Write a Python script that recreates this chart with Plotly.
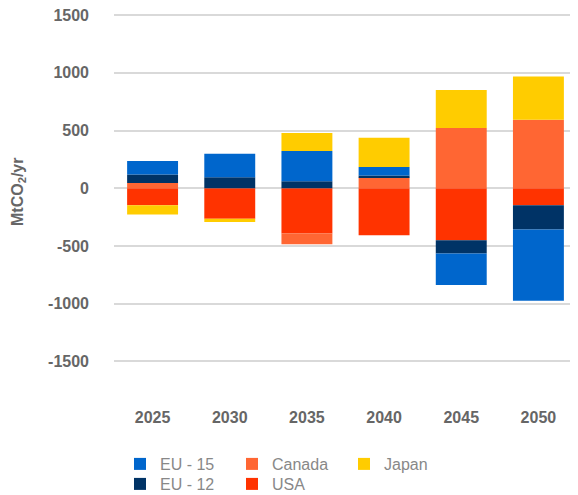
import plotly.graph_objects as go

years = ['2025', '2030', '2035', '2040', '2045', '2050']
eu15 = [117, 205, 263, 74, -274, -618]
eu12 = [73, 95, 60, 17, -115, -210]
canada = [46, 0, -93, 93, 522, 594]
usa = [-147, -265, -392, -407, -450, -147]
japan = [-81, -27, 156, 254, 329, 375]
y_ticks = [1500, 1000, 500, 0, -500, -1000, -1500]

colors = {'EU - 15': '#0066CC', 'EU - 12': '#003366', 'Canada': '#FF6633',
          'USA': '#FF3300', 'Japan': '#FFCC00'}

# stacking order (trace order) and legend placement
series = [
    ('USA', usa, 'legend2', 2),
    ('Canada', canada, 'legend', 2),
    ('EU - 12', eu12, 'legend2', 1),
    ('EU - 15', eu15, 'legend', 1),
    ('Japan', japan, 'legend', 3),
]

fig = go.Figure()
for name, vals, leg, rank in series:
    fig.add_trace(go.Bar(x=years, y=vals, name=name, marker_color=colors[name],
                         marker_line_width=0, legend=leg, legendrank=rank))

# the page body adds an 8px margin, so the figure is 8px smaller than the window
W, H = 570, 487
FONT = 'Liberation Sans, Arial, sans-serif'
legend_common = dict(orientation='h', xanchor='left', yanchor='middle',
                     xref='container', yref='container',
                     x=112 / W, entrywidth=67, entrywidthmode='pixels',
                     font=dict(family=FONT, size=16, color='#888888'),
                     bgcolor='rgba(0,0,0,0)', traceorder='normal')

fig.update_layout(
    width=W, height=H,
    margin=dict(l=106, r=1, t=6, b=99, autoexpand=False),
    paper_bgcolor='white', plot_bgcolor='white',
    barmode='relative', bargap=0.34,
    font=dict(family=FONT),
    showlegend=True,
    legend=dict(legend_common, y=(H - 456) / H),
    legend2=dict(legend_common, y=(H - 476) / H),
    xaxis=dict(type='category', showgrid=False, showline=False, ticks='',
               automargin=False, ticklabeloverflow='allow',
               tickfont=dict(family=FONT, size=16, color='#666666', weight='bold'),
               ticklabelstandoff=10),
    yaxis=dict(range=[-1800, 1510], tickvals=y_ticks, ticktext=[str(v) for v in y_ticks],
               automargin=False, ticklabeloverflow='allow',
               showgrid=True, gridcolor='#D9D9D9', gridwidth=1.5,
               zeroline=True, zerolinecolor='#D9D9D9', zerolinewidth=1.5,
               showline=False, ticks='', ticklabelstandoff=24,
               tickfont=dict(family=FONT, size=16, color='#666666', weight='bold')),
    annotations=[dict(text='MtCO<sub>2</sub>/yr', textangle=-90, showarrow=False,
                      xref='paper', yref='paper', x=0, y=0.534, xshift=-96,
                      xanchor='center', yanchor='middle',
                      font=dict(family=FONT, size=16, color='#666666', weight='bold'))],
)

fig.write_html('out.html')
